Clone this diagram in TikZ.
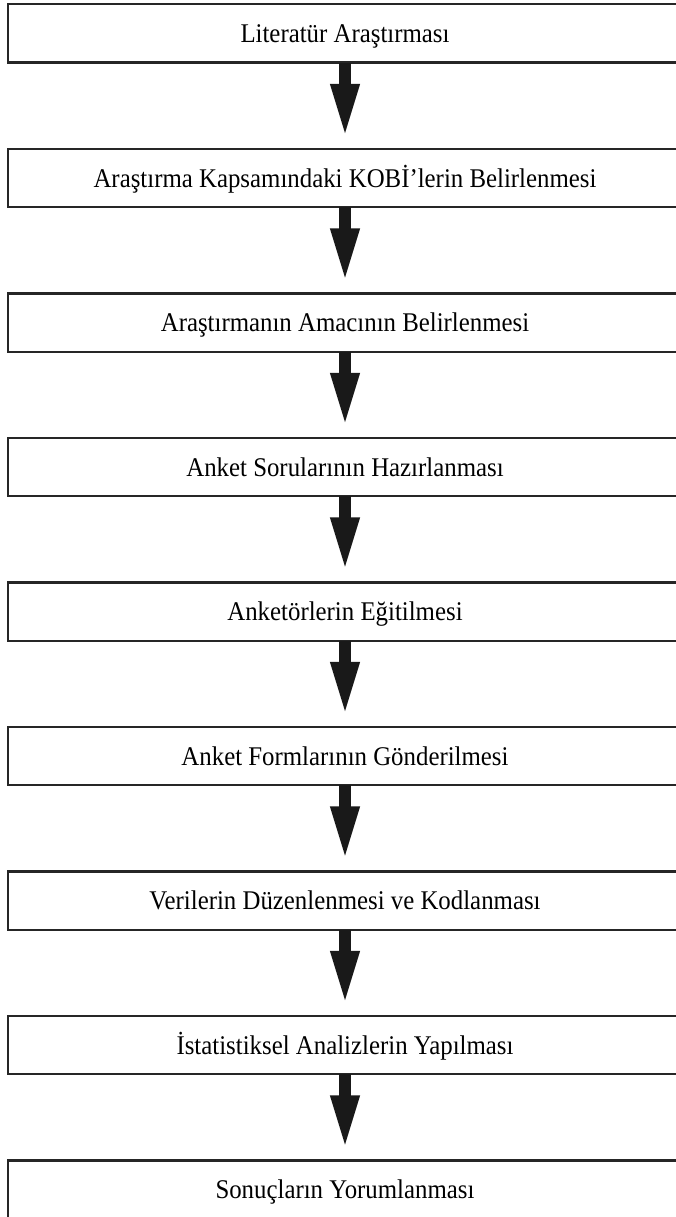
\documentclass[tikz,border=0pt]{standalone}
\usepackage{fontspec}
\setmainfont{Liberation Serif}[FakeStretch=0.92]
\usetikzlibrary{arrows.meta}
\begin{document}
\begin{tikzpicture}[x=1pt,y=-1pt,
  stepbox/.style={minimum width=672pt, minimum height=56pt, inner sep=0pt, outer sep=1.2pt, text height=18pt, text depth=0pt, font=\fontsize{27}{29}\selectfont},
  boxline/.style={draw=black!85, line width=2.4pt},
  bigarrow/.style={draw=black!90, line width=12pt, -{Triangle[length=55pt,width=26pt]}, shorten >=10pt}]
\useasboundingbox (0,0) rectangle (676,1217);
\node[stepbox] (b1) at (345,33.5) {Literatür Araştırması};
\node[stepbox] (b2) at (345,178) {Araştırma Kapsamındaki KOBİ’lerin Belirlenmesi};
\node[stepbox] (b3) at (345,322.5) {Araştırmanın Amacının Belirlenmesi};
\node[stepbox] (b4) at (345,467) {Anket Sorularının Hazırlanması};
\node[stepbox] (b5) at (345,611.5) {Anketörlerin Eğitilmesi};
\node[stepbox] (b6) at (345,756) {Anket Formlarının Gönderilmesi};
\node[stepbox] (b7) at (345,900.5) {Verilerin Düzenlenmesi ve Kodlanması};
\node[stepbox] (b8) at (345,1045) {İstatistiksel Analizlerin Yapılması};
\node[stepbox] (b9) at (345,1189.5) {Sonuçların Yorumlanması};
\foreach \b in {b1,b2,b3,b4,b5,b6,b7,b8,b9}
  \draw[boxline] (\b.south west) rectangle ([xshift=30pt]\b.north east);
\foreach \a/\b in {b1/b2,b2/b3,b3/b4,b4/b5,b5/b6,b6/b7,b7/b8,b8/b9}
  \draw[bigarrow] (\a.south) -- (\b.north);
\end{tikzpicture}
\end{document}
